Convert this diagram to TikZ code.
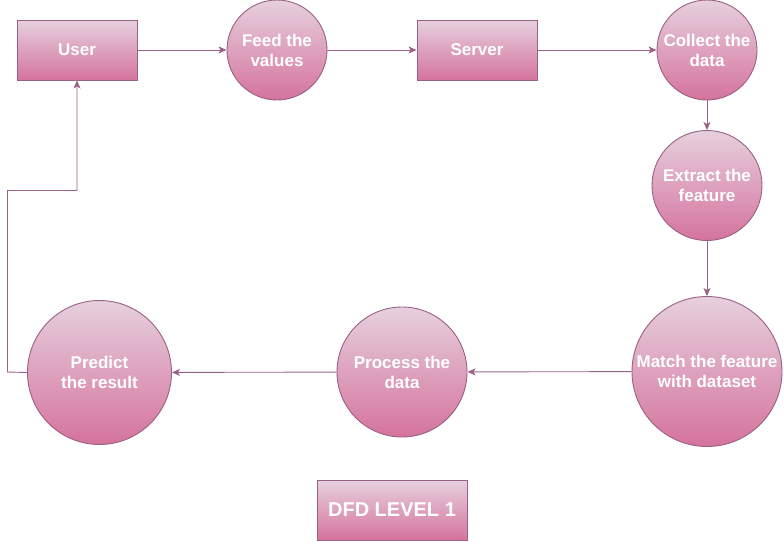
\documentclass[tikz,border=0pt]{standalone}
\usepackage{fontspec}
\setmainfont{Liberation Sans}
\usetikzlibrary{arrows.meta}
\definecolor{pktop}{HTML}{E6D0DE}
\definecolor{pkbot}{HTML}{D5739D}
\definecolor{pkline}{HTML}{996185}
\tikzset{
  base/.style={draw=pkline, line width=0.9pt, top color=pktop, bottom color=pkbot,
    text=white, font=\bfseries\fontsize{17}{20}\selectfont, align=center, inner sep=0pt},
  ent/.style={base, rectangle, minimum width=120pt, minimum height=60pt},
  proc/.style={base, circle},
  conn/.style={draw=pkline, line width=0.9pt, -{Stealth[length=8pt,width=7pt,inset=2pt]}}
}
\begin{document}
\begin{tikzpicture}[x=1pt,y=-1pt]
\useasboundingbox (0,0) rectangle (784,541);
\node[ent] (user) at (77,50) {User};
\node[proc, minimum size=100pt] (feed) at (277,50) {Feed the\\values};
\node[ent] (server) at (477,50) {Server};
\node[proc, minimum size=100pt] (collect) at (707,50) {Collect the\\data};
\node[proc, minimum size=110pt] (extract) at (707,185.5) {Extract the\\feature};
\node[proc, minimum size=150pt] (match) at (707,371.5) {Match the feature\\with dataset};
\node[proc, minimum size=130pt] (process) at (402,372) {Process the\\data};
\node[proc, minimum size=144pt] (predict) at (99.5,372.5) {Predict\\the result};
\node[ent, minimum width=150pt, font=\bfseries\fontsize{20}{24}\selectfont] (title) at (392,510) {DFD LEVEL 1};
\coordinate (c1) at (7.5,372);
\coordinate (c2) at (7.5,190.5);
\coordinate (c3) at (77,190.5);
\draw[conn] (user) -- (feed);
\draw[conn] (feed) -- (server);
\draw[conn] (server) -- (collect);
\draw[conn] (collect) -- (extract);
\draw[conn] (extract) -- (match);
\draw[conn] (match) -- (process);
\draw[conn] (process) -- (predict);
\draw[conn] (predict.west) -- (c1) -- (c2) -- (c3) -- (user.south);
\end{tikzpicture}
\end{document}
